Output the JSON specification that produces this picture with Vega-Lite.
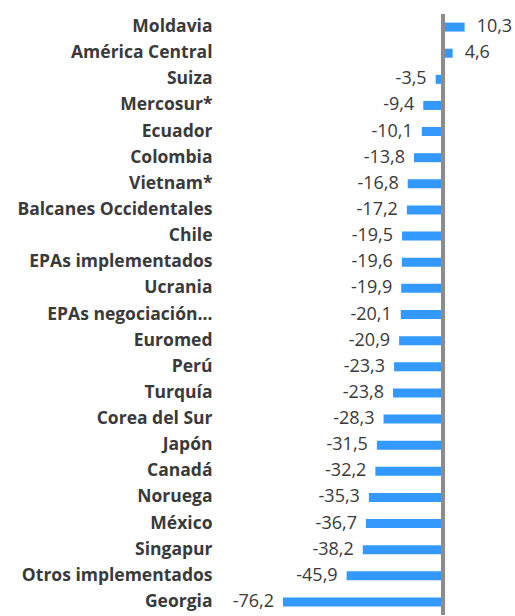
{
  "$schema": "https://vega.github.io/schema/vega-lite/v6.json",
  "width": 294,
  "height": 601,
  "autosize": "none",
  "padding": {"left": 212, "top": 14, "right": 9, "bottom": 1},
  "background": "white",
  "config": {"view": {"stroke": null}},
  "data": {"values": [
    {"pais": "Moldavia", "valor": 10.3, "etiqueta": "10,3"},
    {"pais": "América Central", "valor": 4.6, "etiqueta": "4,6"},
    {"pais": "Suiza", "valor": -3.5, "etiqueta": "-3,5"},
    {"pais": "Mercosur*", "valor": -9.4, "etiqueta": "-9,4"},
    {"pais": "Ecuador", "valor": -10.1, "etiqueta": "-10,1"},
    {"pais": "Colombia", "valor": -13.8, "etiqueta": "-13,8"},
    {"pais": "Vietnam*", "valor": -16.8, "etiqueta": "-16,8"},
    {"pais": "Balcanes Occidentales", "valor": -17.2, "etiqueta": "-17,2"},
    {"pais": "Chile", "valor": -19.5, "etiqueta": "-19,5"},
    {"pais": "EPAs implementados", "valor": -19.6, "etiqueta": "-19,6"},
    {"pais": "Ucrania", "valor": -19.9, "etiqueta": "-19,9"},
    {"pais": "EPAs negociación…", "valor": -20.1, "etiqueta": "-20,1"},
    {"pais": "Euromed", "valor": -20.9, "etiqueta": "-20,9"},
    {"pais": "Perú", "valor": -23.3, "etiqueta": "-23,3"},
    {"pais": "Turquía", "valor": -23.8, "etiqueta": "-23,8"},
    {"pais": "Corea del Sur", "valor": -28.3, "etiqueta": "-28,3"},
    {"pais": "Japón", "valor": -31.5, "etiqueta": "-31,5"},
    {"pais": "Canadá", "valor": -32.2, "etiqueta": "-32,2"},
    {"pais": "Noruega", "valor": -35.3, "etiqueta": "-35,3"},
    {"pais": "México", "valor": -36.7, "etiqueta": "-36,7"},
    {"pais": "Singapur", "valor": -38.2, "etiqueta": "-38,2"},
    {"pais": "Otros implementados", "valor": -45.9, "etiqueta": "-45,9"},
    {"pais": "Georgia", "valor": -76.2, "etiqueta": "-76,2"}
  ]},
  "encoding": {
    "y": {
      "field": "pais", "type": "nominal", "sort": null,
      "scale": {"paddingInner": 0, "paddingOuter": 0},
      "axis": {"title": null, "domain": false, "ticks": false, "labelPadding": 0,
               "labelFont": "Open Sans", "labelFontSize": 17.5, "labelFontWeight": "bold",
               "labelColor": "#3a3a3a", "labelLimit": 300}
    }
  },
  "layer": [
    {
      "mark": {"type": "bar", "size": 9, "color": "#3399ff"},
      "encoding": {
        "x": {"field": "valor", "type": "quantitative", "scale": {"domain": [-110, 30], "nice": false, "zero": true}, "axis": null}
      }
    },
    {
      "mark": {"type": "rule", "color": "#8c8c8c", "strokeWidth": 3},
      "encoding": {"x": {"datum": 0, "type": "quantitative"}, "y": null}
    },
    {
      "transform": [{"filter": "datum.valor < 0"}],
      "mark": {"type": "text", "align": "right", "baseline": "middle", "dx": -9, "font": "Open Sans", "fontSize": 18, "color": "#3a3a3a"},
      "encoding": {
        "x": {"field": "valor", "type": "quantitative"},
        "text": {"field": "etiqueta"}
      }
    },
    {
      "transform": [{"filter": "datum.valor >= 0"}],
      "mark": {"type": "text", "align": "left", "baseline": "middle", "dx": 12, "font": "Open Sans", "fontSize": 18, "color": "#3a3a3a"},
      "encoding": {
        "x": {"field": "valor", "type": "quantitative"},
        "text": {"field": "etiqueta"}
      }
    }
  ]
}
